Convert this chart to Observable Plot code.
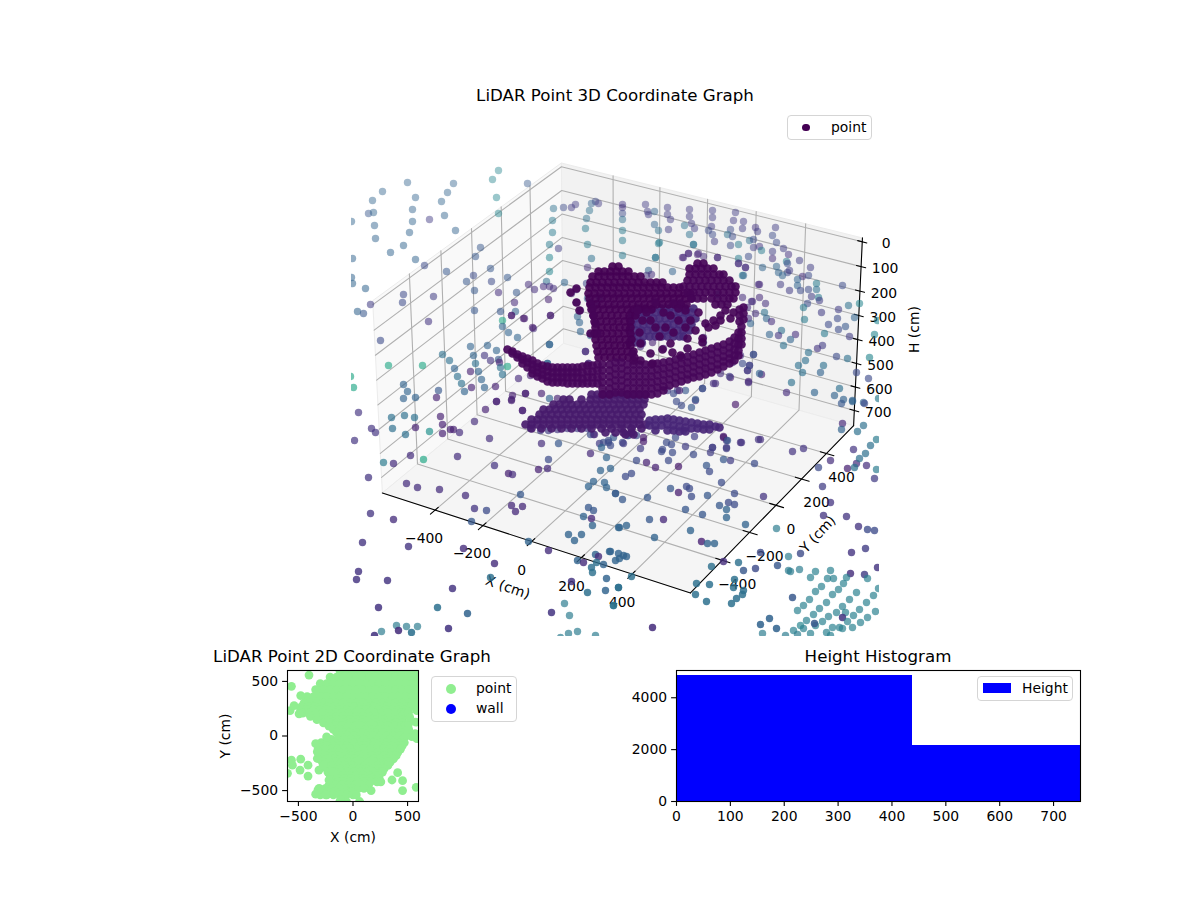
<!DOCTYPE html>
<html><head><meta charset="utf-8">
<script src="https://cdn.jsdelivr.net/npm/d3@7"></script>
<script src="https://cdn.jsdelivr.net/npm/@observablehq/plot@0.6"></script>
<style>
body{margin:0;background:#fff;font-family:"DejaVu Sans",sans-serif;color:#000}
#fig{position:relative;width:1200px;height:900px;overflow:hidden}
#fig svg{position:absolute;left:0;top:0}
.title{position:absolute;font-size:16.67px;line-height:20px;text-align:center;white-space:nowrap;transform:translateX(-50%)}
.legend{position:absolute;background:rgba(255,255,255,.8);border:1px solid #d5d5d5;border-radius:4px;box-sizing:border-box;font-size:13.9px}
.legend span{position:absolute;line-height:16px;white-space:nowrap}
.legend i{position:absolute;display:block}
</style></head><body><div id="fig"></div>
<script>
// ---- tick labels and axis limits (cm) ----
const xTicks3d=[-400,-200,0,200,400], yTicks3d=[-400,-200,0,200,400], hTicks3d=[0,100,200,300,400,500,600,700];
const xLim3d=[-625,625], yLim3d=[-625,625], hLim3d=[-15.6,765.6];
// camera calibration: cube corner (x,y,h in 0..1) -> view-plane coordinate
const cameraCorners=[[0,0,1,-233,-121],[1,0,1,75,-220],[1,1,1,238,-54],[0,1,1,-52,30],[0,0,0,-243,72],[0,1,0,-54,209],[1,1,0,247,135]];

// ---- LiDAR returns read in the 3D view plane: [u, v, colour value] ----
const sparseFar=[[-117,202,.45],[-123,193,.45],[-119,175,.45],[-117,159,.45],[-88,189,.25],[-208,190,.3],[-162,189,.3],[-233,181,.3],[-168,180,.3],[-200,175,.3],[-243,172,.3],[-174,171,.3],[-203,163,.3],[-247,159,.25],[-242,160,.3],[-171,157,.3],[-264,151,.3],[-203,151,.3],[-186,153,.15],[-241,147,.3],[-160,142,.3],[-206,140,.3],[-240,134,.3],[-212,127,.3],[-225,120,.3],[-263,114,.3],[-200,113,.3],[-135,125,.25],[-140,116,.25],[-191,107,.2],[-169,101,.25],[-125,104,.25],[-142,97,.2],[-108,95,.25],[-149,91,.25],[-124,91,.2],[-264,95,.3],[-263,89,.3],[-250,84,.3],[-141,82,.25],[-212,78,.2],[-182,76,.15],[-117,80,.1],[-99,80,.25],[-245,68,.15],[-213,70,.2],[-258,61,.3],[-252,59,.25],[-141,62,.25],[-187,51,.12],[-101,70,.08],[-100,61,.3],[-115,61,.25],[-104,57,.05],[-91,54,.05],[-113,52,.6],[-113,46,.3],[-82,44,.1],[-65,57,.08],[-107,40,.3],[-235,32,.2],[-98,35,.3],[-128,27,.3],[-145,26,.3],[-119,22,.3],[-173,18,.35],[-142,17,.3],[-131,17,.12],[-166,12,.35],[-117,13,.25],[-125,12,.12],[-140,9,.35],[-116,10,.05],[-227,7,.6],[-193,7,.6],[-115,5,.35],[-108,6,.6],[-161,4,.3],[-145,1,.05],[-137,1,.3],[-158,-4,.35],[-113,-2,.35],[-265,-4,.6],[-262,-15,.6],[-134,-7,.3],[-154,-11,.35],[-212,-12,.3],[-144,-15,.05],[-131,-15,.3],[-120,-14,.05],[-208,-19,.3],[-177,-18,.25],[-151,-19,.3],[-200,-25,.3],[-212,-26,.3],[-179,-25,.05]];
const sparseBackLeft=[[-62,164,.35],[-52,165,.2],[-44,165,.15],[-40,168,.15],[-24,169,.3],[-20,171,.2],[-17,169,.15],[-26,162,.35],[-29,154,.35],[-63,152,.4],[-30,144,.4],[-63,140,.4],[-66,128,.4],[-28,128,.4],[-57,124,.15],[-66,115,.45],[-24,114,.35],[-28,105,.1],[-66,101,.45],[-69,91,.35],[-51,90,.3],[-87,88,.1],[-72,86,.1],[-66,86,.1],[-62,84,.1],[-81,83,.1],[-44,79,.1],[-39,83,.08],[-29,89,.2],[-39,70,.1],[-67,73,.05],[-24,69,.1],[-19,69,.2],[-28,74,.3],[-16,75,.3],[-35,62,.1],[-38,56,.3],[-36,50,.3],[-22,56,.1],[-35,41,.3],[-25,37,.3],[-66,28,.3],[-30,21,.1],[-27,9,.1],[-68,9,.3],[-65,57,.03],[-83,45,.03],[-92,54,.03],[-104,57,.03]];
const sparseBackRight=[[7,168,.12],[7,165,.12],[30,168,.15],[7,159,.2],[7,153,.35],[32,161,.15],[33,158,.15],[39,161,.3],[52,165,.15],[52,158,.15],[55,153,.15],[74,163,.15],[74,156,.15],[76,149,.15],[39,148,.3],[69,147,.35],[79,144,.15],[53,143,.15],[43,142,.35],[7,142,.4],[97,162,.15],[97,155,.15],[120,160,.15],[118,152,.15],[128,151,.15],[96,146,.15],[93,142,.2],[97,138,.2],[74,138,.35],[115,143,.2],[127,144,.15],[140,145,.12],[142,141,.15],[160,145,.15],[112,138,.35],[117,136,.2],[99,131,.15],[7,132,.4],[44,130,.4],[78,128,.4],[134,132,.35],[138,133,.2],[157,137,.2],[161,130,.2],[123,128,.4],[115,127,.2],[138,125,.15],[144,126,.12],[146,122,.4],[168,124,.15],[157,121,.15],[173,118,.12],[157,114,.1],[133,116,.2],[7,117,.4],[40,115,.4],[184,112,.15],[73,119,.05],[67,115,.05],[82,118,.05],[102,115,.05],[123,114,.4],[123,109,.08],[130,105,.1],[147,105,.3],[171,111,.4],[172,109,.2],[195,105,.15],[161,106,.3],[163,100,.3],[172,100,.2],[174,102,.15],[167,97,.3],[127,97,.4],[187,96,.1],[193,97,.2],[182,93,.3],[201,89,.4],[182,87,.3],[227,87,.2],[165,88,.15],[174,82,.15],[185,82,.2],[193,83,.2],[201,83,.35],[196,76,.15],[144,88,.08],[203,75,.4],[204,72,.15],[150,69,.1],[144,75,.08],[137,71,.08],[192,69,.2],[244,69,.45],[233,67,.35],[188,65,.4],[223,63,.15],[206,60,.15],[239,55,.3],[222,54,.2],[189,53,.4],[262,52,.45],[149,60,.35],[151,54,.3],[156,51,.1],[213,48,.2],[230,46,.25],[223,43,.2],[166,42,.35],[180,38,.1],[163,37,.12],[154,38,.3],[209,39,.4],[234,36,.15],[259,38,.45],[175,33,.3],[168,27,.35],[207,27,.15],[202,24,.12],[193,20,.35],[254,15,.45],[221,16,.2],[232,14,.35],[190,12,.35],[183,7,.35],[208,7,.35],[138,18,.1],[205,0,.3],[187,0,.35],[241,0,.2],[253,-6,.2],[176,-10,.35],[146,-2,.05],[133,-9,.05],[132,2,.08],[134,7,.08],[199,-20,.3],[224,-16,.35],[171,-20,.1],[219,-23,.3],[228,-27,.3],[237,-28,.3],[248,-30,.3],[263,-26,.4],[87,-16,.1],[62,-18,.15],[80,-28,.12],[115,-5,.05],[100,-11,.1]];
const sparseLowerLeft=[[-257,-40,.12],[-244,-56,.12],[-240,-60,.12],[-261,-68,.12],[-224,-45,.35],[-211,-43,.35],[-201,-45,.35],[-223,-56,.35],[-210,-62,.35],[-200,-55,.05],[-186,-59,.5],[-175,-44,.05],[-173,-52,.05],[-173,-61,.05],[-165,-57,.05],[-162,-57,.05],[-156,-60,.1],[-141,-49,.1],[-130,-37,.05],[-119,-29,.05],[-104,-27,.05],[-93,-38,.05],[-90,-21,.05],[-126,-66,.1],[-74,-71,.1],[-57,-71,.25],[-232,-90,.4],[-222,-91,.1],[-205,-83,.1],[-192,-87,.6],[-158,-84,.1],[-121,-93,.12],[-247,-105,.12],[-107,-101,.05],[-103,-102,.1],[-77,-97,.05],[-68,-96,.08],[-67,-87,.2],[-209,-111,.1],[-198,-115,.1],[-176,-117,.1],[-150,-123,.1],[-95,-122,.25],[-141,-136,.12],[-129,-138,.2],[-104,-133,.08],[-93,-134,.08],[-100,-139,.08],[-245,-141,.12],[-222,-147,.1],[-144,-149,.25],[-253,-170,.12],[-207,-174,.12],[-152,-176,.1],[-87,-169,.3],[-67,-178,.1],[-121,-191,.1],[-257,-199,.12],[-259,-207,.12],[-228,-208,.12],[-125,-205,.35],[-163,-216,.12],[-237,-235,.12],[-178,-235,.35],[-148,-241,.3],[-64,-240,.12],[-219,-253,.4],[-234,-259,.4],[-209,-254,.4],[-198,-254,.4],[-217,-258,.1],[-204,-260,.35],[-167,-256,.12],[-241,-263,.12],[-51,-231,.4],[-46,-243,.4],[-44,-209,.12],[-28,-220,.35],[-10,-218,.3],[-9,-206,.3],[-2,-233,.3],[-47,-162,.3],[-34,-162,.3],[-41,-168,.3],[-32,-144,.3],[-27,-135,.25],[-22,-138,.25],[-24,-146,.08],[-23,-153,.3],[-20,-182,.3],[-38,-188,.3],[-32,-190,.1],[-17,-184,.1],[-6,-179,.3],[-19,-190,.35],[-24,-195,.35],[-12,-192,.3],[-23,-200,.35],[-47,-261,.4],[-38,-259,.4],[-20,-263,.4],[-55,-265,.4],[3,-215,.35],[0,-188,.3],[3,-181,.3],[-25,-81,.08],[-22,-62,.08],[-16,-71,.15],[-7,-70,.2],[-9,-85,.3],[-15,-98,.3],[-5,-96,.3],[-22,-109,.3],[-11,-110,.3],[-27,-114,.3],[-9,-115,.3],[0,-121,.3],[3,-155,.3]];
const sparseLowerRight=[[120,-32,.02],[111,-68,.12],[108,-64,.03],[125,-70,.1],[145,-67,.1],[177,-79,.12],[188,-76,.12],[97,-75,.15],[111,-76,.15],[95,-80,.15],[78,-82,.2],[70,-74,.15],[57,-80,.2],[46,-79,.2],[108,-87,.25],[115,-88,.15],[139,-91,.2],[53,-88,.2],[31,-90,.05],[21,-88,.2],[63,-94,.03],[40,-95,.05],[91,-93,.25],[94,-99,.2],[16,-101,.2],[10,-104,.2],[106,-110,.2],[55,-116,.25],[71,-114,.2],[74,-116,.2],[63,-120,.04],[76,-124,.2],[0,-121,.25],[92,-123,.25],[119,-121,.2],[148,-124,.12],[32,-125,.25],[7,-127,.25],[113,-130,.2],[104,-133,.25],[119,-132,.2],[111,-137,.3],[70,-137,.25],[87,-142,.25],[111,-145,.3],[34,-147,.25],[48,-147,.08],[130,-152,.3],[75,-158,.3],[11,-153,.3],[4,-155,.3],[39,-165,.3],[86,-169,.05],[92,-171,.3],[99,-171,.3],[161,-156,.4],[243,-154,.12],[252,-157,.2],[259,-158,.2],[231,-144,.12],[208,-143,.12],[215,-130,.12],[207,-114,.15],[259,-106,.15],[232,-96,.05],[241,-91,.1],[251,-93,.1],[261,-97,.4],[215,-88,.1],[203,-95,.2],[238,-77,.12],[250,-81,.35],[261,-67,.4],[255,-73,.35],[244,-86,.35],[239,-95,.35],[227,-51,.08],[226,-57,.3],[242,-59,.35],[248,-53,.35],[237,-29,.3],[226,-31,.25],[249,-31,.2],[-5,-179,.3],[4,-186,.3],[8,-183,.3],[11,-184,.3],[16,-204,.35],[3,-215,.35],[-2,-233,.4],[37,-255,.1],[81,-211,.35],[80,-222,.35],[94,-212,.35],[91,-229,.35],[96,-194,.35],[108,-189,.1],[123,-190,.35],[128,-198,.25],[140,-196,.2],[145,-180,.2],[162,-193,.25],[173,-184,.4],[185,-181,.2],[236,-180,.12],[250,-176,.15],[262,-195,.12],[235,-201,.1],[249,-202,.15],[173,-198,.4],[175,-199,.4],[184,-197,.4],[119,-207,.35],[128,-218,.35],[127,-222,.35],[118,-215,.35],[116,-231,.35],[121,-226,.35]];
const sparseTealCluster=[[200,-199,.42],[215,-198,.42],[195,-205,.42],[212,-206,.42],[218,-206,.42],[231,-205,.42],[228,-211,.42],[252,-206,.42],[206,-214,.42],[200,-219,.42],[194,-227,.42],[188,-233,.42],[182,-238,.42],[223,-217,.42],[217,-222,.42],[211,-230,.42],[204,-236,.42],[198,-242,.42],[191,-248,.42],[241,-220,.42],[234,-227,.42],[227,-234,.42],[221,-240,.42],[213,-244,.42],[207,-249,.42],[200,-253,.42],[258,-223,.42],[251,-230,.42],[244,-237,.42],[238,-243,.42],[230,-240,.42],[227,-245,.12],[232,-249,.42],[224,-255,.42],[217,-255,.42],[227,-256,.42],[211,-260,.42],[263,-216,.42],[260,-239,.42],[252,-245,.42],[245,-250,.42],[237,-255,.42],[215,-263,.42],[178,-258,.42],[185,-253,.45],[199,-251,.25],[188,-256,.42],[177,-225,.25],[154,-246,.3],[145,-252,.3],[161,-256,.3],[147,-261,.4],[170,-263,.4],[182,-262,.4],[195,-261,.42]];
const sparseAroundCore=[[-103,-23,.05],[-104,-28,.05],[-119,-29,.05],[-90,-21,.05],[-74,-21,.05],[-93,-38,.05],[-66,-26,.3],[-58,-26,.05],[-97,-6,.08],[-85,-3,.05],[-30,21,.08],[-27,9,.08],[-68,9,.3],[-66,28,.3],[-85,-56,.15],[-75,-58,.15],[-67,-58,.15],[-58,-57,.12],[-48,-56,.12],[-38,-56,.15],[-28,-56,.15],[-25,-62,.2],[-21,-62,.08],[-12,-70,.2],[-7,-68,.2],[-14,-75,.3],[-2,-65,.25],[7,-70,.2],[-5,-73,.2],[13,-63,.15],[87,-16,.25],[80,-27,.25],[76,-35,.25],[70,-18,.25],[66,-33,.2],[61,-29,.2],[58,-21,.2],[64,-18,.05],[52,-18,.15],[98,-11,.1],[114,-4,.15],[133,-10,.1],[132,2,.15],[134,7,.2],[138,18,.25],[125,17,.1],[127,9,.2],[144,-1,.3],[105,-1,.1],[117,10,.1],[108,-65,.03],[112,-68,.25],[126,-70,.12],[143,-67,.12],[79,-64,.15],[97,-75,.15],[111,-75,.15],[28,-65,.03],[28,-69,.03],[21,-63,.2],[12,-63,.2],[51,-70,.2],[56,-72,.2],[60,-65,.2],[68,-58,.2],[47,-77,.2],[25,-76,.15],[8,-71,.15],[68,115,.08],[73,119,.08],[83,119,.08],[88,116,.1],[102,115,.1],[57,101,.3],[40,115,.35],[78,128,.35],[43,129,.4],[33,102,.3],[36,98,.1],[31,97,.1],[123,109,.1],[130,105,.1],[128,97,.3],[143,88,.1],[127,75,.1],[136,71,.1],[132,65,.1],[140,59,.1],[133,54,.1],[135,49,.3],[88,35,.1],[88,30,.3],[27,29,.08],[37,30,.05],[48,24,.05],[25,26,.08]];

// dense core, rows: [v, u, u, ...]
const coreInner=[[64,22,30,38,46,54,62,70,78],[60,16,22,28,34,40,46,52,58,64,70,76],[54,14,20,26,32,38,44,50,56,62,68,74,80],[48,16,22,28,34,40,46,52,58,64,70,76],[42,14,20,26,32,38,44,50,56,62,68,74],[36,16,22,28,34,40,46,52,58,64,68],[30,14,20,26]];
const coreColumn=[[106,-3,3],[101,-17,-11,-5,1,7,13],[96,-23,-17,-11,-5,1,7,13,19,25],[90,-25,-19,-13,-7,-1,5,11,17,23,29,35,41,47],[85,-26,-20,-14,-8,-2,4,10,16,22,28,34,40,46,52,58,64],[79,-27,-21,-15,-9,-3,3,9,15,21,27,33,39,45,51,57,63,69,75],[74,-26,-20,-14,-8,-2,4,10,16,22,28,34,40,46,52,58,64,70,76],[68,-25,-19,-13,-7,-1,5,11,17,23,29,35,41,47,53,59,65,71],[63,-24,-18,-12,-6,0,6,12,18,24,30,36],[57,-22,-16,-10,-4,2,8,14,20],[51,-21,-15,-9,-3,3,9,15],[45,-20,-14,-8,-2,4,10,15],[39,-21,-15,-9,-3,3,9,15],[33,-20,-14,-8,-2,4,10,16],[27,-19,-13,-7,-1,5,11,15],[21,-18,-12,-6,0,6,12,18],[15,-17,-11,-5,1,7,13,19]];
const coreLobe=[[109,82,88],[104,74,80,86,92,98],[98,74,80,86,92,98,104,108],[92,72,78,84,90,96,102,108,114],[86,68,74,80,86,92,98,104,110,116,120],[80,72,78,84,90,96,102,108,114,120],[74,76,82,88,96,102,108,114,118],[68,100,106,112]];
const coreRibbon=[[-22,-24,-18,-12,-6,0,6,12,18,24,30],[-27,-52,-46,-34,-25,-19,-13,-7,-1,5,11,17,23,29],[-32,-62,-56,-50,-44,-38,-32,-26,-20,-14,-8,-2,4,10,16,22,28],[-37,-72,-66,-60,-54,-48,-42,-36,-30,-24,-18,-12,-6,0,6,12,18,24],[-42,-76,-70,-64,-58,-52,-46,-40,-34,-28,-22,-16,-10,-4,2,8,14,20,26],[-47,-84,-78,-72,-66,-60,-54,-48,-42,-36,-30,-24,-18,-12,-6,0,6,12,18,24],[-52,-90,-84,-78,-72,-66,-60,-54,-48,-42,-36,-30,-24,-18,-12,-6,0,6,12,18,24,30],[-56,-84,-74,-64,-54,-44,-34,-24,-14,-4,6,16,26],[-60,-10,0,8,16],[-62,10,18]];
// columns: [u, v, v, ...]
const coreArc=[[-108,23],[-103,21,19],[-98,18,15],[-93,16,13,9],[-88,14,10,5],[-83,12,8,3,-1],[-78,9,5,0,-4],[-73,7,3,-2,-6],[-68,6,1,-4,-9],[-63,5,0,-5,-10],[-58,5,0,-5,-10],[-53,5,0,-5,-10],[-48,5,0,-5,-11],[-43,5,0,-5,-11],[-38,5,0,-5,-11],[-33,6,0,-6,-11],[-28,7,1,-5,-11],[-23,7,1,-5,-11],[-18,8,2,-5,-11],[-13,8,2,-4,-10,-16,-22],[-6,8,2,-4,-10,-16,-22],[0,10,4,-2,-8,-14,-20],[6,10,4,-2,-8,-14,-20],[12,8,2,-4,-10,-16,-22],[18,8,2,-4,-10,-16,-22],[24,8,2,-4,-10,-16,-22],[30,8,2,-4,-10,-16,-22],[36,8,2,-4,-10,-16,-22],[42,9,3,-3,-9,-15,-21],[48,10,4,-2,-8,-14,-18],[54,11,5,-1,-7,-13],[60,13,7,1,-5,-11],[66,15,9,3,-3,-9],[72,16,10,4,-2,-7],[78,18,12,6,0,-5],[84,20,14,8,2,-4],[90,22,16,10,4,-2],[96,24,18,12,6,0],[102,26,20,14,8,3],[108,28,22,16,11,6],[114,31,25,19,14,9],[119,35,29,23,17,12],[123,40,34,28,22,17],[126,46,40,34,28],[128,65,59,53],[124,63,57,51]];
const coreArm=[[34,-48,-53],[40,-47,-53,-58],[46,-47,-53],[52,-46,-52,-58],[58,-47,-53,-58],[64,-48,-54,-59],[70,-49,-55,-59],[76,-50,-56],[82,-51,-56],[88,-52,-57],[94,-52,-57],[100,-54],[104,-55]];
const coreAccents=[[90,49],[98,52],[105,57],[110,62],[118,60],[115,54],[93,45],[87,34],[105,52],[100,47],[83,60],[70,62],[65,69],[58,69],[40,70],[31,60],[40,45],[27,52],[48,60],[63,64],[63,52],[55,57],[72,34],[80,42],[75,52],[17,19],[25,29],[25,12],[35,19],[47,23],[55,29],[57,20],[65,17],[72,24],[87,30],[37,9],[18,12],[-25,69],[-23,64],[-22,57],[-36,62],[-39,70],[-45,80],[-39,84],[-20,49],[-25,39],[-18,39],[22,62],[35,52],[50,45],[58,40],[24,40],[44,36],[70,45]];
const tealSpeck=[[102,78,.45]];

// ---- 2D map rows: [Y, X, X, ...] in cm ----
const map2dRows=[
[600,-120,-60,0,60,120,180,240,300,360,420,480,540,600],
[540,-210,-150,-90,-30,30,90,150,210,270,330,390,450,510,570],
[480,-300,-240,-180,-120,-60,0,60,120,180,240,300,360,420,480,540,600],
[420,-330,-270,-210,-150,-90,-30,30,90,150,210,270,330,390,450,510,570],
[360,-420,-360,-300,-240,-180,-120,-60,0,60,120,180,240,300,360,420,480,540,600],
[300,-450,-390,-330,-270,-210,-150,-90,-30,30,90,150,210,270,330,390,450,510,570],
[270,-470,-410,-350,-290,-230,-170,-110,-50,10,70,130,190,250,310,370,430,490,530],
[240,-480,-420,-360,-300,-240,-180,-120,-60,0,60,120,180,240,300,360,420,465],
[210,-460,-400,-340,-280,-220,-160,-100,-40,20,80,140,200,260,320,380,440,470],
[180,-390,-330,-270,-210,-150,-90,-30,30,90,150,210,270,330,390,450],
[150,-330,-270,-210,-150,-90,-30,30,90,150,210,270,330,390,450],
[120,-270,-210,-150,-90,-30,30,90,150,210,270,330,390,450],
[90,-220,-160,-100,-40,20,80,140,200,260,320,380,440,470],
[60,-180,-120,-60,0,60,120,180,240,300,360,420,470],
[30,-150,-90,-30,30,90,150,210,270,330,390,450,480],
[0,-110,-50,10,70,130,190,250,310,370,430,485],
[-30,-200,-140,-80,-20,40,100,160,220,280,340,400,460],
[-60,-290,-230,-170,-110,-50,10,70,130,190,250,310,370,430,470],
[-90,-300,-240,-180,-120,-60,0,60,120,180,240,300,360,420,450],
[-120,-320,-260,-200,-140,-80,-20,40,100,160,220,280,340,400,435],
[-150,-310,-250,-190,-130,-70,-10,50,110,170,230,290,350,410],
[-180,-310,-250,-190,-130,-70,-10,50,110,170,230,290,350,395],
[-210,-290,-230,-170,-110,-50,10,70,130,190,250,310,370],
[-240,-280,-220,-160,-100,-40,20,80,140,200,260,320,340],
[-270,-250,-190,-130,-70,-10,50,110,170,230,290,320],
[-300,-240,-180,-120,-60,0,60,120,180,240,285],
[-330,-230,-170,-110,-50,10,70,130,190,250,270],
[-360,-210,-150,-90,-30,30,90,150,210,240],
[-390,-200,-140,-80,-20,40,100,160,220,240],
[-420,-200,-140,-80,-20,40,100,160,220,255],
[-450,-220,-160,-100,-40,20,80,140],
[-480,-310,-250,-190,-130,-70,-10,50,100],
[-510,-290,-230,-170,-110,-50,-10],
[-540,-300,-240,-180,-120,-60,0,30],
[-600,-120,-60,60]];
const map2dStray=[[-403,558],[-564,455],[-576,233],[-479,370],[-540,279],[-494,203],[-342,424],[-564,-221],[-479,-212],[-412,-267],[-485,-312],[-412,-367],[-600,-342],[-555,-267],[-312,-312],[-327,-206],[-342,-70],[-242,-9],[-327,-145],[-272,-267],[-321,-494],[-342,-533],[-250,-539],[-220,-403],[-190,-327],[-114,-585],[62,-615],[166,-500],[409,-336],[357,-403],[454,-409],[454,-500],[579,-470],[494,6],[570,21],[585,-24],[576,127],[509,112],[509,218],[585,233],[520,170],[510,60],[540,-5]];
const wallPoints=[];

// ---- height histogram ----
const histEdges=[0,438,876];
const histCounts=[4860,2165];
const histYTicks=[0,2000,4000];
const histXTicks=[0,100,200,300,400,500,600,700];
const map2dTicks=[-500,0,500];

// ---------- 3D camera ----------
function solve(A,b){const n=b.length,M=A.map((r,i)=>[...r,b[i]]);
 for(let i=0;i<n;i++){let p=i;for(let k=i+1;k<n;k++)if(Math.abs(M[k][i])>Math.abs(M[p][i]))p=k;[M[i],M[p]]=[M[p],M[i]];
  for(let k=0;k<n;k++)if(k!==i){const f=M[k][i]/M[i][i];for(let j=i;j<=n;j++)M[k][j]-=f*M[i][j];}}
 return M.map((r,i)=>r[n]/r[i]);}
const rowsDLT=[],rhs=[];
for(const [a,b,c,u,v] of cameraCorners){const U=u/100,V=v/100;
 rowsDLT.push([a,b,c,1,0,0,0,0,-U*a,-U*b,-U*c]);rhs.push(U);
 rowsDLT.push([0,0,0,0,a,b,c,1,-V*a,-V*b,-V*c]);rhs.push(V);}
const AtA=Array.from({length:11},(_,i)=>Array.from({length:11},(_,j)=>d3.sum(rowsDLT,r=>r[i]*r[j])+(i===j?1e-9:0)));
const Atb=Array.from({length:11},(_,i)=>d3.sum(rowsDLT,(r,k)=>r[i]*rhs[k]));
const h=solve(AtA,Atb);
function project(X,Y,H){
 const a=(X-xLim3d[0])/(xLim3d[1]-xLim3d[0]),b=(Y-yLim3d[0])/(yLim3d[1]-yLim3d[0]),c=(H-hLim3d[0])/(hLim3d[1]-hLim3d[0]);
 const w=h[8]*a+h[9]*b+h[10]*c+1;
 return {u:100*(h[0]*a+h[1]*b+h[2]*c+h[3])/w,v:100*(h[4]*a+h[5]*b+h[6]*c+h[7])/w};}
const [x0,x1]=xLim3d,[y0,y1]=yLim3d,[hT,hB]=hLim3d;
const poly=(pts,key)=>pts.map(p=>({...project(...p),key}));
const panes=[
 {fill:"#f9f9f9",pts:[[x0,y0,hB],[x0,y1,hB],[x0,y1,hT],[x0,y0,hT],[x0,y0,hB]]},
 {fill:"#f2f2f2",pts:[[x0,y1,hB],[x1,y1,hB],[x1,y1,hT],[x0,y1,hT],[x0,y1,hB]]},
 {fill:"#f5f5f5",pts:[[x0,y0,hB],[x1,y0,hB],[x1,y1,hB],[x0,y1,hB],[x0,y0,hB]]}];
const grid=[];let gid=0;
for(const t of xTicks3d)grid.push(...poly([[t,y0,hB],[t,y1,hB],[t,y1,hT]],gid++));
for(const t of yTicks3d)grid.push(...poly([[x1,t,hB],[x0,t,hB],[x0,t,hT]],gid++));
for(const t of hTicks3d)grid.push(...poly([[x0,y0,t],[x0,y1,t],[x1,y1,t]],gid++));
const axes3d=[...poly([[x0,y0,hB],[x1,y0,hB]],"x"),...poly([[x1,y0,hB],[x1,y1,hB]],"y"),...poly([[x1,y1,hB],[x1,y1,hT]],"h")];
const tickSegs=[];
for(const t of xTicks3d)tickSegs.push(...poly([[t,y0-30,hB],[t,y0+20,hB]],"x"+t));
for(const t of yTicks3d)tickSegs.push(...poly([[x1-25,t,hB],[x1+30,t,hB]],"y"+t));
for(const t of hTicks3d)tickSegs.push(...poly([[x1-18,y1,t],[x1+18,y1,t]],"h"+t));
const fmt=d=>String(d).replace("-","\u2212");
const xLabels=xTicks3d.map(t=>({...project(t,y0,hB),t}));
const yLabels=yTicks3d.map(t=>({...project(x1,t,hB),t}));
const hLabels=hTicks3d.map(t=>({...project(x1,y1,t),t}));

// ---------- points ----------
const triples=[...sparseFar,...sparseBackLeft,...sparseBackRight,...sparseLowerLeft,...sparseLowerRight,...sparseTealCluster,...sparseAroundCore,...tealSpeck].map(([u,v,c])=>({u,v,c}));
const rowsToPts=(rows,c)=>rows.flatMap(([v,...us])=>us.map(u=>({u,v,c})));
const colsToPts=(cols,c)=>cols.flatMap(([u,...vs])=>vs.map(v=>({u,v,c})));
const core=[...rowsToPts(coreInner,.08),...rowsToPts(coreRibbon,.03),...colsToPts(coreArm,.07),...rowsToPts(coreColumn,-.05),...rowsToPts(coreLobe,-.04),...colsToPts(coreArc,-.03),...coreAccents.map(([u,v])=>({u,v,c:-.04}))];
const depthOpacity=d=>Math.min(0.88-0.50*(d.v+264)/528,d.c>.35?.68:1);
const fig=document.getElementById("fig");
const base={width:1200,height:900,style:{background:"transparent",fontFamily:"DejaVu Sans",fontSize:"13.9px",color:"#000",overflow:"visible"}};
const txt=(data,dx,dy,extra={})=>Plot.text(data,{x:"u",y:"v",text:d=>fmt(d.t),dx,dy,fill:"#000",fontSize:13.9,...extra});

fig.append(Plot.plot({...base,marginLeft:351,marginRight:321,marginTop:108,marginBottom:264,
 x:{domain:[-264,264],axis:null},y:{domain:[-264,264],axis:null},
 color:{type:"linear",domain:[-.05,1.05],scheme:"viridis"},
 marks:[
  ...panes.map(p=>Plot.line(poly(p.pts,0),{x:"u",y:"v",fill:p.fill,stroke:"#ececec",strokeWidth:1})),
  Plot.line(grid,{x:"u",y:"v",z:"key",stroke:"#b0b0b0",strokeWidth:1.1}),
  Plot.line(axes3d,{x:"u",y:"v",z:"key",stroke:"#000",strokeWidth:1.1}),
  Plot.line(tickSegs,{x:"u",y:"v",z:"key",stroke:"#000",strokeWidth:1.1}),
  txt(xLabels.filter(d=>d.t<0),-11,28),txt(xLabels.filter(d=>d.t>=0),-10,29),txt(yLabels,15,24),txt(hLabels,24,2),
  Plot.text([project(0,y0,hB)],{x:"u",y:"v",text:()=>"X (cm)",dx:-24,dy:46,rotate:19,fill:"#000",fontSize:13.9}),
  Plot.text([project(x1,0,hB)],{x:"u",y:"v",text:()=>"Y (cm)",dx:42,dy:29,rotate:-47,fill:"#000",fontSize:13.9}),
  Plot.text([project(x1,y1,375)],{x:"u",y:"v",text:()=>"H (cm)",dx:57,dy:-4,rotate:-90,fill:"#000",fontSize:13.9}),
  Plot.dot(triples,{x:"u",y:"v",fill:"c",r:3.7,stroke:null,fillOpacity:{value:depthOpacity,scale:null},clip:true}),
  Plot.dot(core,{x:"u",y:"v",fill:"c",r:4.3,stroke:null,fillOpacity:0.92,clip:true})
 ]}));

const map2d=[...map2dRows.flatMap(([Y,...xs])=>xs.map(X=>({X,Y}))),...map2dStray.map(([X,Y])=>({X,Y}))];
fig.append(Plot.plot({...base,marginLeft:287,marginRight:782,marginTop:670,marginBottom:99,
 x:{domain:[-600,600]},y:{domain:[-600,600]},
 marks:[
  Plot.dot(map2d,{x:"X",y:"Y",r:4.4,fill:"#90ee90",clip:true}),
  Plot.dot(wallPoints,{x:"X",y:"Y",r:4.4,fill:"#0000ff",clip:true}),
  Plot.frame({stroke:"#000",strokeWidth:1.1}),
  Plot.axisX(map2dTicks,{label:"X (cm)",labelAnchor:"center",labelArrow:"none",labelOffset:40,tickSize:4.9,tickPadding:4.5,tickFormat:fmt,strokeWidth:1.1,stroke:"#000"}),
  Plot.axisY(map2dTicks,{label:"Y (cm)",labelAnchor:"center",labelArrow:"none",labelOffset:67,tickSize:4.9,tickPadding:4.5,tickFormat:fmt,strokeWidth:1.1,stroke:"#000"})
 ]}));

const bins=histCounts.map((n,i)=>({x1:histEdges[i],x2:histEdges[i+1],n}));
fig.append(Plot.plot({...base,marginLeft:676,marginRight:120,marginTop:670,marginBottom:99,
 x:{domain:[0,750]},y:{domain:[0,5051]},
 marks:[
  Plot.rectY(bins,{x1:"x1",x2:"x2",y:"n",fill:"#0000ff",inset:0,clip:true,shapeRendering:"crispEdges"}),
  Plot.frame({stroke:"#000",strokeWidth:1.1}),
  Plot.axisX(histXTicks,{label:null,tickSize:4.9,tickPadding:4.5,tickFormat:fmt,strokeWidth:1.1,stroke:"#000"}),
  Plot.axisY(histYTicks,{label:null,tickSize:4.9,tickPadding:4.5,tickFormat:fmt,strokeWidth:1.1,stroke:"#000"})
 ]}));

// ---------- titles and legends ----------
function addTitle(text,cx,top){const e=document.createElement("div");e.className="title";e.textContent=text;e.style.left=cx+"px";e.style.top=top+"px";fig.append(e);}
addTitle("LiDAR Point 3D Coordinate Graph",615,86);
addTitle("LiDAR Point 2D Coordinate Graph",352,647);
addTitle("Height Histogram",878,647);
function addLegend(left,top,w,hh,items){const e=document.createElement("div");e.className="legend";Object.assign(e.style,{left:left+"px",top:top+"px",width:w+"px",height:hh+"px"});
 for(const it of items){const m=document.createElement("i");
  if(it.r){Object.assign(m.style,{left:it.mx-it.r-left-1+"px",top:it.my-it.r-top-1+"px",width:2*it.r+"px",height:2*it.r+"px",borderRadius:"50%",background:it.color});}
  else{Object.assign(m.style,{left:it.mx-left-1+"px",top:it.my-top-1+"px",width:it.w+"px",height:it.h+"px",background:it.color});}
  const s=document.createElement("span");s.textContent=it.label;s.style.left=it.tx-left-1+"px";s.style.top=it.ty-top-1+"px";e.append(m,s);}
 fig.append(e);}
addLegend(787,115,85,25,[{label:"point",color:"#440154",r:3.6,mx:806,my:127.5,tx:831,ty:119}]);
addLegend(431,676,86,46,[{label:"point",color:"#90ee90",r:5,mx:451,my:689,tx:476,ty:680},{label:"wall",color:"#0000ff",r:5,mx:451,my:709,tx:476,ty:700}]);
addLegend(977,676,96,25,[{label:"Height",color:"#0000ff",mx:983,my:683,w:28,h:10,tx:1022,ty:680}]);
</script></body></html>
